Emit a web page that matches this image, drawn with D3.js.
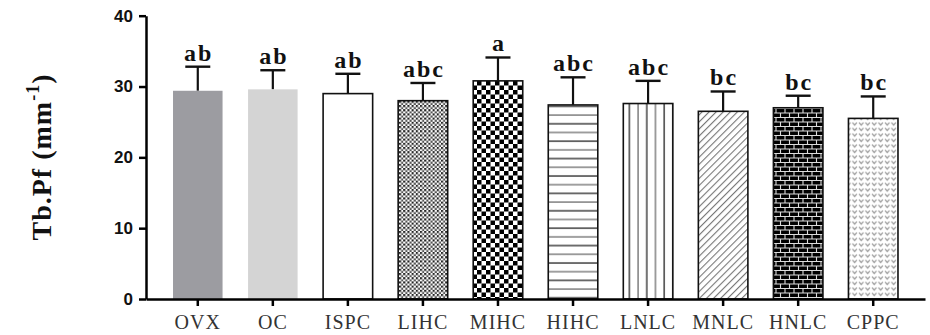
<!DOCTYPE html>
<html>
<head>
<meta charset="utf-8">
<script src="https://cdn.jsdelivr.net/npm/d3@7"></script>
<style>
  body { margin: 0; background: #fff; }
  svg { display: block; }
</style>
</head>
<body>
<div id="chart"></div>
<script>
const groups = ['OVX', 'OC', 'ISPC', 'LIHC', 'MIHC', 'HIHC', 'LNLC', 'MNLC', 'HNLC', 'CPPC'];
const means = [29.4, 29.6, 29.0, 28.0, 30.8, 27.4, 27.6, 26.5, 27.0, 25.5];
const sds = [3.4, 2.7, 2.8, 2.5, 3.3, 3.9, 3.2, 2.8, 1.7, 3.1];
const letters = ['ab', 'ab', 'ab', 'abc', 'a', 'abc', 'abc', 'bc', 'bc', 'bc'];
const yTicks = [0, 10, 20, 30, 40];

const width = 930, height = 335;
const margin = { top: 15.7, right: 5, bottom: 36, left: 146 };

const svg = d3.select('#chart').append('svg')
  .attr('width', width)
  .attr('height', height);

const defs = svg.append('defs');

// fine checker
const p1 = defs.append('pattern').attr('id', 'checkFine').attr('patternUnits', 'userSpaceOnUse')
  .attr('width', 4.2).attr('height', 4.2);
p1.append('rect').attr('width', 4.2).attr('height', 4.2).attr('fill', '#fff');
p1.append('rect').attr('width', 2.1).attr('height', 2.1).attr('fill', '#222');
p1.append('rect').attr('x', 2.1).attr('y', 2.1).attr('width', 2.1).attr('height', 2.1).attr('fill', '#555');

// coarse checker
const p2 = defs.append('pattern').attr('id', 'checkBig').attr('patternUnits', 'userSpaceOnUse')
  .attr('width', 9).attr('height', 9);
p2.append('rect').attr('width', 9).attr('height', 9).attr('fill', '#fff');
p2.append('rect').attr('width', 4.5).attr('height', 4.5).attr('fill', '#000');
p2.append('rect').attr('x', 4.5).attr('y', 4.5).attr('width', 4.5).attr('height', 4.5).attr('fill', '#000');

// horizontal lines
const p3 = defs.append('pattern').attr('id', 'hLines').attr('patternUnits', 'userSpaceOnUse')
  .attr('width', 10).attr('height', 17.4);
p3.append('rect').attr('width', 10).attr('height', 17.4).attr('fill', '#fff');
p3.append('line').attr('x1', 0).attr('x2', 10).attr('y1', 2).attr('y2', 2).attr('stroke', '#333').attr('stroke-width', 1.4);
p3.append('line').attr('x1', 0).attr('x2', 10).attr('y1', 10.7).attr('y2', 10.7).attr('stroke', '#888').attr('stroke-width', 1.6);

// vertical lines
const p4 = defs.append('pattern').attr('id', 'vLines').attr('patternUnits', 'userSpaceOnUse')
  .attr('width', 17.4).attr('height', 10);
p4.append('rect').attr('width', 17.4).attr('height', 10).attr('fill', '#fff');
p4.append('line').attr('y1', 0).attr('y2', 10).attr('x1', 3).attr('x2', 3).attr('stroke', '#333').attr('stroke-width', 1.4);
p4.append('line').attr('y1', 0).attr('y2', 10).attr('x1', 11.7).attr('x2', 11.7).attr('stroke', '#888').attr('stroke-width', 1.6);

// diagonal hatch
const p5 = defs.append('pattern').attr('id', 'diag').attr('patternUnits', 'userSpaceOnUse')
  .attr('width', 5).attr('height', 5).attr('patternTransform', 'rotate(45)');
p5.append('rect').attr('width', 5).attr('height', 5).attr('fill', '#fff');
p5.append('line').attr('x1', 0).attr('x2', 0).attr('y1', 0).attr('y2', 5).attr('stroke', '#777').attr('stroke-width', 2.2);

// brick
const p6 = defs.append('pattern').attr('id', 'brick').attr('patternUnits', 'userSpaceOnUse')
  .attr('width', 9).attr('height', 9);
p6.append('rect').attr('width', 9).attr('height', 9).attr('fill', '#000');
p6.append('path')
  .attr('d', 'M0,0.5H9M0,5H9M2,0.5V5M6.5,5V9.5')
  .attr('stroke', '#ddd').attr('stroke-width', 1.1).attr('fill', 'none');

// small v marks
const p7 = defs.append('pattern').attr('id', 'vees').attr('patternUnits', 'userSpaceOnUse')
  .attr('width', 6.5).attr('height', 5.5);
p7.append('rect').attr('width', 6.5).attr('height', 5.5).attr('fill', '#fff');
p7.append('path').attr('d', 'M1,1.5L3.2,4L5.4,1.5').attr('stroke', '#999').attr('stroke-width', 1.3).attr('fill', 'none');

const fills = ['#9c9ca1', '#d4d4d4', '#fff', 'url(#checkFine)', 'url(#checkBig)', 'url(#hLines)',
  'url(#vLines)', 'url(#diag)', 'url(#brick)', 'url(#vees)'];
const bordered = [false, false, true, true, true, true, true, true, true, true];

const x = d3.scaleBand()
  .domain(groups)
  .range([margin.left, width - margin.right])
  .paddingInner(0.34)
  .paddingOuter(0.36);

const y = d3.scaleLinear()
  .domain([0, 40])
  .range([height - margin.bottom, margin.top]);

const data = groups.map((g, i) => ({ g, mean: means[i], sd: sds[i], letter: letters[i], fill: fills[i], border: bordered[i] }));

// error bars (upper only)
const err = svg.append('g').selectAll('g').data(data).join('g');
err.append('line')
  .attr('x1', d => x(d.g) + x.bandwidth() / 2)
  .attr('x2', d => x(d.g) + x.bandwidth() / 2)
  .attr('y1', d => y(d.mean))
  .attr('y2', d => y(d.mean + d.sd))
  .attr('stroke', '#111').attr('stroke-width', 2.2);
err.append('line')
  .attr('x1', d => x(d.g) + x.bandwidth() / 2 - 12.5)
  .attr('x2', d => x(d.g) + x.bandwidth() / 2 + 12.5)
  .attr('y1', d => y(d.mean + d.sd))
  .attr('y2', d => y(d.mean + d.sd))
  .attr('stroke', '#111').attr('stroke-width', 2.4);

svg.append('g').selectAll('rect').data(data).join('rect')
  .attr('x', d => x(d.g))
  .attr('y', d => y(d.mean))
  .attr('width', x.bandwidth())
  .attr('height', d => y(0) - y(d.mean))
  .attr('fill', d => d.fill)
  .attr('stroke', d => d.border ? '#111' : 'none')
  .attr('stroke-width', 1.6);

// significance letters
svg.append('g').selectAll('text').data(data).join('text')
  .attr('x', d => x(d.g) + x.bandwidth() / 2 + 1)
  .attr('y', d => y(d.mean + d.sd) - 6)
  .attr('text-anchor', 'middle')
  .style('font-family', '"Liberation Serif", "Times New Roman", serif')
  .style('font-weight', 'bold')
  .style('font-size', '24px')
  .style('letter-spacing', '2px')
  .style('fill', '#111')
  .text(d => d.letter);

// axes
svg.append('g')
  .attr('transform', `translate(${margin.left},0)`)
  .call(d3.axisLeft(y).tickValues(yTicks).tickSize(7).tickSizeOuter(0).tickPadding(6))
  .call(g => g.select('.domain').attr('stroke', '#000').attr('stroke-width', 2.5))
  .call(g => g.selectAll('.tick line').attr('stroke', '#000').attr('stroke-width', 2.5))
  .call(g => g.selectAll('.tick text')
    .style('font-family', '"Liberation Sans", Arial, sans-serif')
    .style('font-weight', 'bold')
    .style('font-size', '17px')
    .style('fill', '#111'));

svg.append('g')
  .attr('transform', `translate(0,${y(0)})`)
  .call(d3.axisBottom(x).tickSize(7).tickSizeOuter(0).tickPadding(9))
  .call(g => g.select('.domain').attr('stroke', '#000').attr('stroke-width', 2.5))
  .call(g => g.selectAll('.tick line').attr('stroke', '#000').attr('stroke-width', 2.5))
  .call(g => g.selectAll('.tick text')
    .style('font-family', '"Liberation Serif", "Times New Roman", serif')
    .style('font-size', '20px')
    .style('letter-spacing', '1px')
    .style('fill', '#333'));

// y title
const title = svg.append('text')
  .attr('transform', 'translate(51,157) rotate(-90)')
  .attr('text-anchor', 'middle')
  .style('font-family', '"Liberation Serif", "Times New Roman", serif')
  .style('font-weight', 'bold')
  .style('font-size', '28px')
  .style('letter-spacing', '1px')
  .style('fill', '#111');
title.append('tspan').text('Tb.Pf  (mm');
title.append('tspan').attr('dy', -12).style('font-size', '18px').text('-1');
title.append('tspan').attr('dy', 12).text(')');
</script>
</body>
</html>
